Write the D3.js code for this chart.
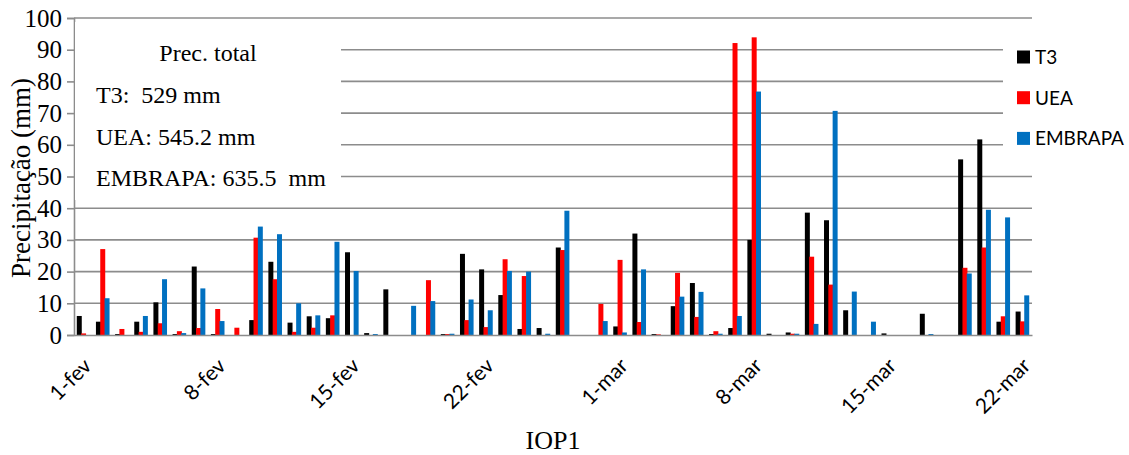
<!DOCTYPE html>
<html><head><meta charset="utf-8">
<script src="https://cdn.jsdelivr.net/npm/d3@7"></script>
<style>body{margin:0;background:#fff}svg{display:block}</style>
</head><body>
<svg id="c" width="1129" height="455"></svg>
<script>
const categories = ["1-fev","2-fev","3-fev","4-fev","5-fev","6-fev","7-fev","8-fev","9-fev","10-fev","11-fev","12-fev","13-fev","14-fev","15-fev","16-fev","17-fev","18-fev","19-fev","20-fev","21-fev","22-fev","23-fev","24-fev","25-fev","26-fev","27-fev","28-fev","1-mar","2-mar","3-mar","4-mar","5-mar","6-mar","7-mar","8-mar","9-mar","10-mar","11-mar","12-mar","13-mar","14-mar","15-mar","16-mar","17-mar","18-mar","19-mar","20-mar","21-mar","22-mar"];
const T3 = [6.0,4.2,0.3,4.2,10.3,0.3,21.6,0.3,0,4.7,23.1,3.9,5.9,5.3,26.1,0.6,14.4,0,0,0.3,25.6,20.7,12.6,1.9,2.2,27.6,0,0,2.7,32.0,0.3,9.1,16.4,0.3,2.2,30.0,0.4,0.8,38.6,36.2,7.8,0,0.5,0,6.7,0,55.4,61.7,4.2,7.4];
const UEA = [0.5,27.1,1.9,1.0,3.7,1.2,2.2,8.2,2.3,30.7,17.6,1.0,2.3,6.2,0,0,0,0,17.3,0.3,4.7,2.5,23.9,18.6,0,26.8,0,9.8,23.7,4.1,0.2,19.6,5.7,1.2,92.1,93.9,0,0.4,24.7,15.9,0,0,0,0,0,0,21.2,27.6,5.9,4.3];
const EMBRAPA = [0,11.6,0,6.0,17.6,0.6,14.7,4.4,0,34.2,31.8,10.0,6.2,29.4,20.2,0.3,0,9.2,10.7,0.4,11.2,7.8,20.2,20.0,0.4,39.2,0,4.4,0.8,20.7,0,12.1,13.6,0.4,6.0,76.8,0,0.4,3.5,70.7,13.7,4.2,0,0,0.3,0,19.4,39.5,37.1,12.5];
const tickLabels = ["1-fev","8-fev","15-fev","22-fev","1-mar","8-mar","15-mar","22-mar"];
const yTicks = [0,10,20,30,40,50,60,70,80,90,100];
const seriesNames = ["T3","UEA","EMBRAPA"];
const seriesColors = ["#000000","#FF0000","#0070C0"];
const totalsTitle = "Prec. total";
const totalsLines = ["T3:  529 mm","UEA: 545.2 mm","EMBRAPA: 635.5  mm"];

const svg = d3.select("#c");
const L = 74, R = 1032, T = 18, B = 335;
const x = d3.scaleBand().domain(categories).range([L, R]).paddingInner(0).paddingOuter(0);
const y = d3.scaleLinear().domain([0, 100]).range([B, T]);
const serif = "'Liberation Serif','Times New Roman',serif";
const sans = "Lato,'Open Sans',sans-serif";
const grid = "#8c8c8c";

// gridlines
svg.append("g").selectAll("line").data(yTicks.filter(d => d > 0)).join("line")
  .attr("x1", L).attr("x2", R).attr("y1", d => y(d)).attr("y2", d => y(d))
  .attr("stroke", grid).attr("stroke-width", 1.6);

// y axis
const yAxis = d3.axisLeft(y).tickValues(yTicks).tickSize(7).tickPadding(5);
const ya = svg.append("g").attr("transform", `translate(${L},0)`).call(yAxis);
ya.select(".domain").attr("stroke", grid).attr("stroke-width", 1.6);
ya.selectAll(".tick line").attr("stroke", grid).attr("stroke-width", 1.6);
ya.selectAll(".tick text").attr("font-family", serif).attr("font-size", 25).attr("fill", "#000");

// text box (covers grid)
svg.append("rect").attr("x", L + 1).attr("y", 22).attr("width", 341 - L - 1).attr("height", 178).attr("fill", "#fff");
// legend box background
svg.append("rect").attr("x", 1003).attr("y", 28).attr("width", 126).attr("height", 134).attr("fill", "#fff");

// bars
const bw = x.bandwidth();
const step = bw * 0.225, barW = bw * 0.26;
const data = [T3, UEA, EMBRAPA];
data.forEach((vals, si) => {
  svg.append("g").selectAll("rect").data(vals.map((v, i) => ({c: categories[i], v}))).join("rect")
    .attr("x", d => x(d.c) + bw / 2 + (si - 1) * step - barW / 2)
    .attr("width", barW)
    .attr("y", d => y(d.v))
    .attr("height", d => y(0) - y(d.v))
    .attr("fill", seriesColors[si]);
});

// x axis
const xAxis = d3.axisBottom(x).tickValues(tickLabels).tickSize(0).tickPadding(0);
const xa = svg.append("g").attr("transform", `translate(0,${B})`).call(xAxis);
xa.select(".domain").attr("stroke", grid).attr("stroke-width", 1.6);
xa.selectAll(".tick text")
  .attr("font-family", sans).attr("font-size", 21).attr("fill", "#000")
  .attr("text-anchor", "end").attr("dy", "0.35em")
  .attr("transform", "translate(4,27) rotate(-45)").attr("y", 0).attr("x", 0);

// totals text
svg.append("text").attr("x", 208).attr("y", 61).attr("text-anchor", "middle")
  .attr("font-family", serif).attr("font-size", 24).text(totalsTitle);
svg.selectAll(".tot").data(totalsLines).join("text")
  .attr("x", 96).attr("y", (d, i) => 103 + i * 41.5)
  .attr("font-family", serif).attr("font-size", 24).attr("xml:space", "preserve")
  .style("white-space", "pre").text(d => d);

// legend
seriesNames.forEach((n, i) => {
  const cy = 57 + i * 40.7;
  svg.append("rect").attr("x", 1017).attr("y", cy - 6.5).attr("width", 13).attr("height", 13).attr("fill", seriesColors[i]);
  svg.append("text").attr("x", 1035).attr("y", cy).attr("dy", "0.36em")
    .attr("font-family", sans).attr("font-size", 19).text(n);
});

// axis titles
svg.append("text").attr("transform", "translate(30,178) rotate(-90)").attr("text-anchor", "middle")
  .attr("font-family", serif).attr("font-size", 27).text("Precipitação (mm)");
svg.append("text").attr("x", 553).attr("y", 449).attr("text-anchor", "middle")
  .attr("font-family", serif).attr("font-size", 26).text("IOP1");
</script>
</body></html>
